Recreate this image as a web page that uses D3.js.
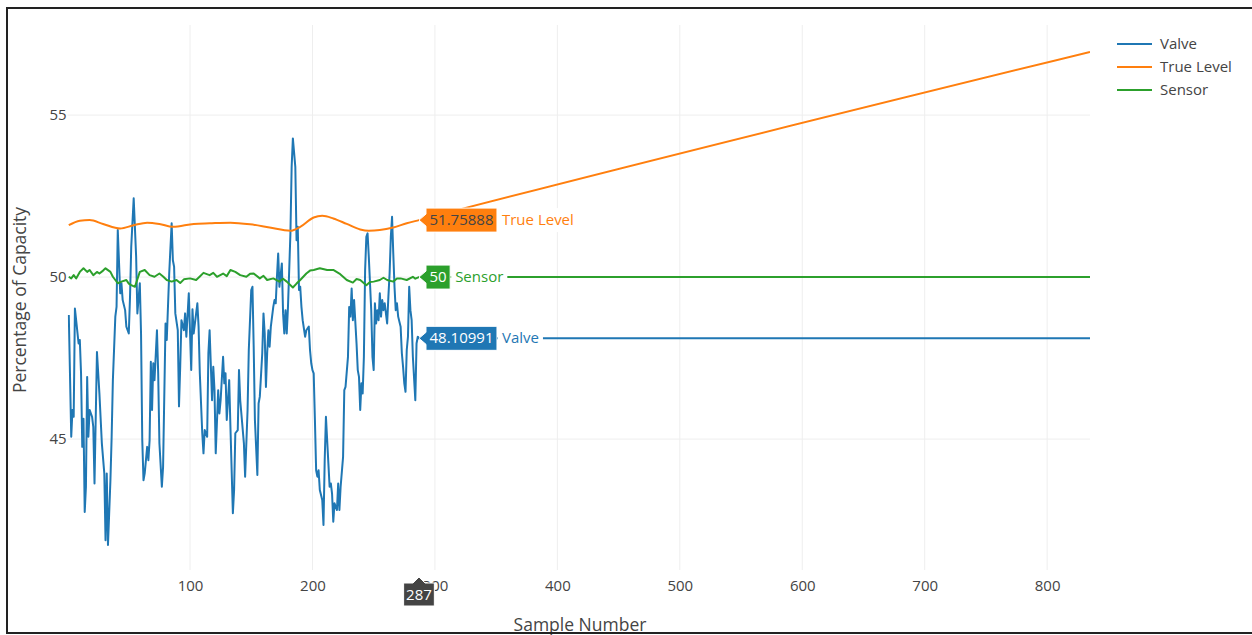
<!DOCTYPE html>
<html><head><meta charset="utf-8">
<script src="https://cdn.jsdelivr.net/npm/d3@7"></script>
<style>
html,body{margin:0;padding:0;background:#fff;}
svg{display:block;font-family:"Open Sans",sans-serif;}
</style></head>
<body><svg id="c" width="1252" height="635"></svg>
<script>
// ---------- data ----------
const xTicks = [100,200,300,400,500,600,700,800];
const yTicks = [45,50,55];
const seriesNames = ["Valve","True Level","Sensor"];
const seriesColors = ["#1f77b4","#ff7f0e","#2ca02c"];
const hoverSample = 287;

const valveSamples = [1,3,4,5,6,7,9,10,11,12,13,14,15,16,17,18,20,21,22,24,26,28,30,31,32,33,35,36,37,39,40,41,43,44,45,47,48,50,51,52,54,56,57,59,60,61,62,63,65,66,67,68,69,70,71,73,74,75,77,78,80,81,83,85,86,87,88,90,91,92,93,95,96,97,99,
101,102,103,105,106,107,108,110,111,112,114,115,116,118,119,120,121,123,124,125,127,128,129,130,132,133,135,136,137,139,140,141,144,145,147,148,150,151,152,153,155,156,157,159,160,161,162,163,164,165,166,168,169,170,171,172,173,175,176,177,178,179,180,182,183,184,186,187,188,189,190,191,192,194,
195,197,198,199,200,201,202,203,204,205,206,208,209,210,211,213,214,215,216,217,218,220,221,222,223,225,226,227,229,230,231,232,233,234,236,237,238,239,240,241,242,243,244,245,246,248,249,250,251,252,253,254,255,256,257,258,259,261,262,263,264,265,266,267,268,269,270,272,273,274,275,276,277,278,279,280,281,282,284,285,286,287,835];
const valveValues = [48.83,45.07,45.90,45.69,49.03,48.67,47.95,48.06,47.03,44.76,45.63,42.75,43.53,46.92,45.07,45.90,45.69,45.38,43.63,47.69,46.41,44.87,43.94,41.88,43.94,41.73,43.73,45.07,46.82,48.78,49.08,51.45,49.50,49.81,49.29,48.98,48.47,48.26,49.39,50.94,52.43,50.63,48.88,49.81,48.26,44.97,43.73,43.94,44.76,44.35,44.97,47.39,45.90,47.34,46.82,48.36,47.03,44.87,43.53,44.14,48.57,48.06,50.11,51.66,50.52,50.32,48.88,48.36,46.01,47.25,48.67,48.36,48.88,48.16,49.50,
47.13,49.01,48.26,48.88,49.19,48.47,47.03,45.18,44.56,45.28,45.07,47.65,48.36,46.20,47.23,46.51,44.56,46.51,45.79,46.20,47.54,46.72,47.03,45.59,46.82,45.38,42.71,43.43,45.18,45.28,47.13,46.20,44.87,43.84,45.90,47.75,49.60,49.70,47.85,45.59,43.89,46.10,46.31,47.65,48.88,48.26,46.61,47.65,48.36,47.85,48.47,49.08,49.29,49.19,50.01,50.73,49.70,50.42,48.88,48.26,48.98,48.26,49.08,51.35,53.40,54.28,53.40,51.14,51.55,49.60,49.70,49.08,48.67,48.16,
48.36,48.47,47.75,47.34,47.13,47.03,45.59,44.04,43.84,44.04,43.43,43.12,42.35,44.35,45.69,44.25,43.53,43.63,43.32,42.45,43.02,42.81,43.63,42.81,43.53,44.45,46.51,46.61,47.54,49.08,48.78,49.65,48.67,49.29,47.95,47.13,46.92,45.90,46.72,46.41,47.54,50.22,51.24,51.35,50.63,48.98,47.54,47.13,49.19,48.57,48.98,48.67,49.50,48.78,49.29,48.98,49.19,48.57,49.39,50.11,51.24,51.86,50.73,49.70,48.98,49.19,48.78,48.47,47.65,47.23,46.72,46.46,47.75,48.16,49.70,48.98,48.67,47.54,46.20,47.95,48.16,48.10991,48.10991];

const levelSamples = [1,10,18,29,43,54,65,75,86,103,116,133,149,165,182,190,201,208,217,228,239,246,255,266,277,287,835];
const levelValues = [51.60,51.74,51.76,51.64,51.50,51.60,51.68,51.64,51.55,51.64,51.66,51.68,51.63,51.53,51.43,51.55,51.84,51.89,51.81,51.64,51.47,51.43,51.45,51.53,51.66,51.75888,56.95];

const sensorSamples = [1,3,5,7,10,13,16,18,21,24,26,29,31,35,37,41,44,48,50,52,55,59,63,67,71,75,78,81,85,89,92,95,100,105,108,111,116,119,122,127,130,133,137,141,146,149,152,157,160,163,168,173,176,179,184,187,190,195,198,201,206,212,217,222,228,233,236,239,244,247,250,255,258,261,266,269,272,277,282,284,287,835];
const sensorValues = [50.01,49.96,50.06,49.96,50.16,50.27,50.16,50.22,50.06,50.16,50.11,50.20,50.27,50.16,50.01,49.81,49.86,49.91,49.80,49.75,49.70,50.16,50.22,50.06,50.01,50.11,50.02,49.91,49.86,49.91,49.82,49.93,49.96,49.91,50.02,50.13,50.06,50.13,50.01,50.11,50.03,50.22,50.16,50.06,50.01,50.10,50.11,49.96,50.04,49.91,49.96,49.86,49.95,49.86,49.68,49.80,49.91,50.11,50.20,50.22,50.27,50.22,50.22,50.11,49.91,49.83,49.94,49.91,49.75,49.85,49.86,49.91,49.98,49.91,49.86,49.96,49.96,49.91,50.01,49.95,50,50];

// ---------- chart ----------
const svg = d3.select("#c");
const L = 67.57, R = 1090, T = 25, B = 570;
const x = d3.scaleLinear().domain([0,835]).range([L,R]);
const y = d3.scaleLinear().domain([40.96,57.78]).range([B,T]);

// gridlines
svg.append("g").selectAll("line").data(xTicks).join("line")
  .attr("x1",d=>x(d)).attr("x2",d=>x(d)).attr("y1",T).attr("y2",B)
  .attr("stroke","#eeeeee").attr("stroke-width",1);
svg.append("g").selectAll("line").data(yTicks).join("line")
  .attr("x1",L).attr("x2",R).attr("y1",d=>y(d)).attr("y2",d=>y(d))
  .attr("stroke","#eeeeee").attr("stroke-width",1);

// axes
const xa = svg.append("g").attr("transform",`translate(0,${B+1})`)
  .call(d3.axisBottom(x).tickValues(xTicks).tickSize(0).tickPadding(9).tickFormat(d3.format("d")));
xa.select(".domain").remove();
xa.selectAll("text").attr("fill","#444").style("font-size","15px").style("font-family","Open Sans");
const ya = svg.append("g").attr("transform",`translate(${L},0)`)
  .call(d3.axisLeft(y).tickValues(yTicks).tickSize(0).tickPadding(1).tickFormat(d3.format("d")));
ya.select(".domain").remove();
ya.selectAll("text").attr("fill","#444").style("font-size","15px").style("font-family","Open Sans");

// axis titles
svg.append("text").attr("x",580).attr("y",631).attr("text-anchor","middle")
  .attr("fill","#444").style("font-size","17.5px").text("Sample Number");
svg.append("text").attr("transform","translate(26,300) rotate(-90)").attr("text-anchor","middle")
  .attr("fill","#444").style("font-size","17.5px").text("Percentage of Capacity");

// lines
const mk = (s,v)=>s.map((d,i)=>[d,v[i]]);
const allSeries = [mk(valveSamples,valveValues), mk(levelSamples,levelValues), mk(sensorSamples,sensorValues)];
const lineGen = d3.line().x(d=>x(d[0])).y(d=>y(d[1]));
const lineSmooth = d3.line().x(d=>x(d[0])).y(d=>y(d[1])).curve(d3.curveMonotoneX);
svg.append("clipPath").attr("id","pc").append("rect").attr("x",L).attr("y",T).attr("width",R-L).attr("height",B-T);
const lg = svg.append("g").attr("clip-path","url(#pc)");
[0,2,1].forEach(i=>{
  lg.append("path").attr("d",(i===1?lineSmooth:lineGen)(allSeries[i]))
    .attr("fill","none").attr("stroke",seriesColors[i]).attr("stroke-width",2)
    .attr("stroke-linejoin","round");
});

// legend
const leg = svg.append("g");
seriesNames.forEach((n,i)=>{
  const yy = 44 + i*23;
  leg.append("line").attr("x1",1117).attr("x2",1152).attr("y1",yy).attr("y2",yy)
    .attr("stroke",seriesColors[i]).attr("stroke-width",2);
  leg.append("text").attr("x",1160).attr("y",yy+5).attr("fill","#444")
    .style("font-size","15px").text(n);
});

// hover labels
function hoverLabel(val, name, color, txtColor){
  const px = x(hoverSample), py = y(val);
  const g = svg.append("g");
  const t = g.append("text").attr("y",py+5).style("font-size","15px").attr("fill",txtColor).text(String(val));
  const w = t.node().getComputedTextLength();
  const bx = px+7, bw = w+7, h = 24;
  g.insert("path","text").attr("d",
    `M${px},${py} L${bx},${py-6} L${bx},${py-h/2} L${bx+bw},${py-h/2} L${bx+bw},${py+h/2} L${bx},${py+h/2} L${bx},${py+6} Z`)
    .attr("fill",color).attr("stroke","#fff").attr("stroke-width",1);
  t.attr("x",bx+3.5);
  const nt = g.append("text").attr("x",bx+bw+5).attr("y",py+5).style("font-size","15px").attr("fill",color).text(name);
  const nw = nt.node().getComputedTextLength();
  g.insert("rect","text:last-child").attr("x",bx+bw+1).attr("y",py-h/2).attr("width",nw+8).attr("height",h)
    .attr("fill","#fff");
}
hoverLabel(levelValues[levelSamples.indexOf(hoverSample)], seriesNames[1], seriesColors[1], "#444");
hoverLabel(sensorValues[sensorSamples.indexOf(hoverSample)], seriesNames[2], seriesColors[2], "#fff");
hoverLabel(valveValues[valveSamples.indexOf(hoverSample)], seriesNames[0], seriesColors[0], "#fff");

// x hover label
(function(){
  const px = x(hoverSample), top = B+7;
  const g = svg.append("g");
  const t = g.append("text").attr("x",px).attr("y",top+23).attr("text-anchor","middle")
    .style("font-size","15px").attr("fill","#fff").text(String(hoverSample));
  const w = t.node().getComputedTextLength()+5;
  g.insert("path","text").attr("d",
    `M${px},${top} L${px+6},${top+6} L${px+w/2},${top+6} L${px+w/2},${top+29} L${px-w/2},${top+29} L${px-w/2},${top+6} L${px-6},${top+6} Z`)
    .attr("fill","#444").attr("stroke","#fff").attr("stroke-width",1);
})();

// frame
svg.append("rect").attr("x",7).attr("y",8).attr("width",1260).attr("height",625)
  .attr("fill","none").attr("stroke","#222").attr("stroke-width",2);
</script>
</body></html>
